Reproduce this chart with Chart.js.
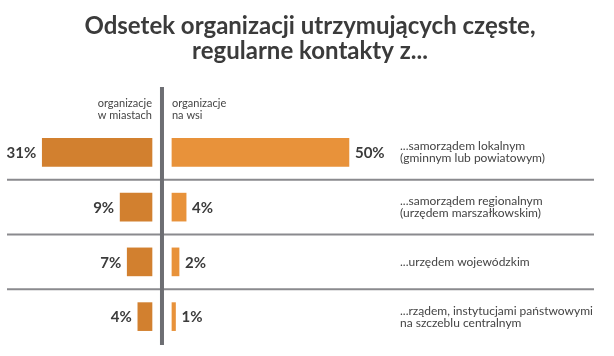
<!DOCTYPE html>
<html>
<head>
<meta charset="utf-8">
<script src="https://cdn.jsdelivr.net/npm/chart.js@4.4.0/dist/chart.umd.min.js"></script>
<style>
html,body{margin:0;padding:0;background:#fff;}
#wrap{position:relative;width:614px;height:356px;}
</style>
</head>
<body>
<div id="wrap"><canvas id="c" width="614" height="356"></canvas></div>
<script>
const titleLines = ["Odsetek organizacji utrzymujących częste,", "regularne kontakty z..."];
const categories = [
  ["...samorządem lokalnym", "(gminnym lub powiatowym)"],
  ["...samorządem regionalnym", "(urzędem marszałkowskim)"],
  ["...urzędem wojewódzkim"],
  ["...rządem, instytucjami państwowymi", "na szczeblu centralnym"]
];
const seriesNames = [["organizacje", "w miastach"], ["organizacje", "na wsi"]];
const cityValues = [31, 9, 7, 4];
const villageValues = [50, 4, 2, 1];

const GAP = 2.82;          // half-gap around centre axis, in % units
const X_MIN = -45.76, X_MAX = 127.7;
const FONT = "'Lato', 'DejaVu Sans', sans-serif";

const labelsPlugin = {
  id: 'custom',
  beforeDatasetsDraw(chart) {
    const ctx = chart.ctx, ys = chart.scales.y;
    ctx.save();
    ctx.strokeStyle = '#8a8a8e';
    ctx.lineWidth = 2;
    const n = categories.length;
    for (let i = 0; i < n - 1; i++) {
      const yy = (ys.getPixelForValue(i) + ys.getPixelForValue(i + 1)) / 2;
      ctx.beginPath(); ctx.moveTo(7, yy); ctx.lineTo(594, yy); ctx.stroke();
    }
    ctx.restore();
  },
  afterDatasetsDraw(chart) {
    const ctx = chart.ctx, xs = chart.scales.x, ys = chart.scales.y;
    const x0 = xs.getPixelForValue(0);
    ctx.save();
    // centre axis
    ctx.fillStyle = '#6d6e73';
    ctx.fillRect(x0 - 2, 87, 4, 258);
    // title
    ctx.fillStyle = '#3b3b3b';
    ctx.font = "bold 24px " + FONT;
    ctx.textAlign = 'center';
    ctx.textBaseline = 'alphabetic';
    ctx.fillText(titleLines[0], 310, 34);
    ctx.fillText(titleLines[1], 310, 59);
    // series headers
    ctx.font = "11px " + FONT;
    ctx.fillStyle = '#444';
    ctx.textAlign = 'right';
    ctx.fillText(seriesNames[0][0], x0 - 10, 107);
    ctx.fillText(seriesNames[0][1], x0 - 10, 119);
    ctx.textAlign = 'left';
    ctx.fillText(seriesNames[1][0], x0 + 10, 107);
    ctx.fillText(seriesNames[1][1], x0 + 10, 119);
    // values & categories
    for (let i = 0; i < categories.length; i++) {
      const yc = ys.getPixelForValue(i);
      ctx.font = "bold 15px " + FONT;
      ctx.fillStyle = '#3b3b3b';
      ctx.textBaseline = 'middle';
      ctx.textAlign = 'right';
      ctx.fillText(cityValues[i] + '%', xs.getPixelForValue(-GAP - cityValues[i]) - 6, yc + 1);
      ctx.textAlign = 'left';
      ctx.fillText(villageValues[i] + '%', xs.getPixelForValue(GAP + villageValues[i]) + 6, yc + 1);
      ctx.font = "12px " + FONT;
      ctx.fillStyle = '#444';
      const lines = categories[i];
      const lh = 12;
      const start = yc - (lines.length - 1) * lh / 2;
      lines.forEach((t, k) => ctx.fillText(t, 400, start + k * lh));
    }
    ctx.restore();
  }
};

new Chart(document.getElementById('c'), {
  type: 'bar',
  data: {
    labels: categories.map(c => c.join(' ')),
    datasets: [
      {
        label: seriesNames[0].join(' '),
        data: cityValues.map(v => [-GAP - v, -GAP]),
        backgroundColor: '#d2802f',
        barThickness: 28,
        grouped: false
      },
      {
        label: seriesNames[1].join(' '),
        data: villageValues.map(v => [GAP, GAP + v]),
        backgroundColor: '#e8923a',
        barThickness: 28,
        grouped: false
      }
    ]
  },
  options: {
    indexAxis: 'y',
    responsive: false,
    animation: false,
    layout: { padding: { top: 125, bottom: 12, left: 0, right: 0 } },
    plugins: { legend: { display: false }, tooltip: { enabled: false }, title: { display: false } },
    scales: {
      x: { display: false, min: X_MIN, max: X_MAX },
      y: { display: false, offset: true }
    }
  },
  plugins: [labelsPlugin]
});
</script>
</body>
</html>
